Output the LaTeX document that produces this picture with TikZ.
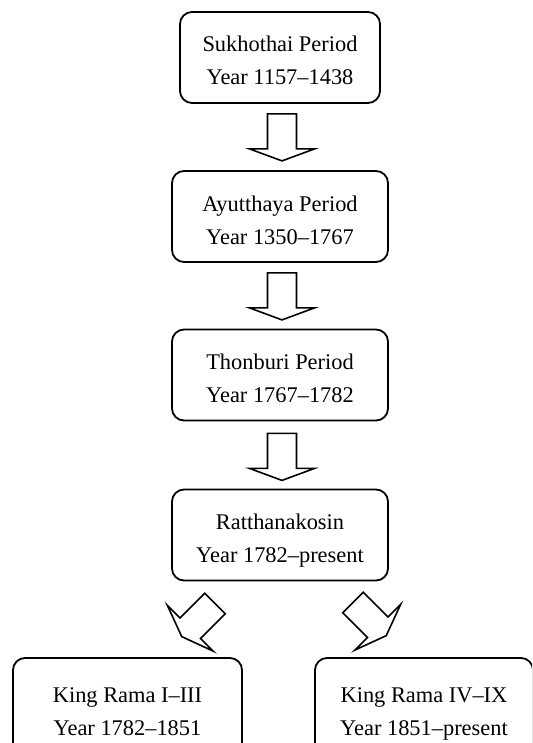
\documentclass[tikz,border=0pt]{standalone}
\usepackage{fontspec}
\setmainfont{Liberation Serif}
\usetikzlibrary{calc}

\tikzset{
  period/.style={draw,line width=1.8pt,rounded corners=12pt,align=center,
    font=\fontsize{22.4}{33}\selectfont,minimum height=91pt,inner sep=0pt,
    text height=55pt,text depth=0pt},
  blockarrow/.pic={
    \draw[line width=1.6pt] (0,-14.5) -- (35,-14.5) -- (35,-32.5) -- (47,0)
      -- (35,32.5) -- (35,14.5) -- (0,14.5) -- cycle;
  }
}

\begin{document}
\begin{tikzpicture}[x=1pt,y=1pt]
\useasboundingbox (0,0) rectangle (532,-743);
\clip (0,0) rectangle (532,-743);

\node[period,minimum width=200pt] (sukhothai) at (280,-57.5) {Sukhothai Period\\Year 1157--1438};
\node[period,minimum width=216pt] (ayutthaya) at (280,-216.5) {Ayutthaya Period\\Year 1350--1767};
\node[period,minimum width=216pt] (thonburi) at (280,-375) {Thonburi Period\\Year 1767--1782};
\node[period,minimum width=216pt] (ratthanakosin) at (280,-535) {Ratthanakosin\\Year 1782--present};

% bottom row runs off the page
\node[period,minimum width=229pt,minimum height=99pt] (ramaA) at (127.5,-707.5) {King Rama I--III\\Year 1782--1851};
\node[period,minimum width=218pt,minimum height=99pt] (ramaB) at (424,-707.5) {King Rama IV--IX\\Year 1851--present};

\pic[rotate=-90] at ($(sukhothai.south)+(2,-10)$) {blockarrow};
\pic[rotate=-90] at ($(ayutthaya.south)+(2,-10)$) {blockarrow};
\pic[rotate=-90] at ($(thonburi.south)+(2,-12)$) {blockarrow};

\pic[rotate=-135] at ($(ratthanakosin.south)+(-65,-22)$) {blockarrow};
\pic[rotate=-45] at ($(ratthanakosin.south)+(73,-21)$) {blockarrow};
\end{tikzpicture}
\end{document}
